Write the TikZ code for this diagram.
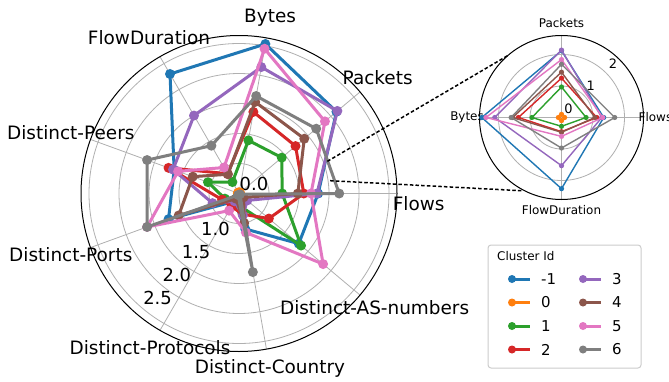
\documentclass[tikz,border=0pt]{standalone}
\usepackage{fontspec}
\setmainfont{DejaVu Sans}
\usetikzlibrary{positioning}

% tab10 colours
\definecolor{tabblue}{HTML}{1F77B4}
\definecolor{taborange}{HTML}{FF7F0E}
\definecolor{tabgreen}{HTML}{2CA02C}
\definecolor{tabred}{HTML}{D62728}
\definecolor{tabpurple}{HTML}{9467BD}
\definecolor{tabbrown}{HTML}{8C564B}
\definecolor{tabpink}{HTML}{E377C2}
\definecolor{tabgray}{HTML}{7F7F7F}
\definecolor{gridgray}{HTML}{B0B0B0}
\definecolor{framegray}{HTML}{CCCCCC}

% one cluster on the big radar (9 features, 40 deg apart)
\newcommand{\bigradar}[2]{%
	\foreach \v [count=\i from 0] in {#2}
		\coordinate (b\i) at ({\i*40}:{\v*60});
	\draw[series, #1] (b0) \foreach \j in {1,...,8}{ -- (b\j)} -- cycle;
	\foreach \j in {0,...,8}
		\fill[#1] (b\j) circle[radius=5];
}
% one cluster on the small radar (first 4 features)
\newcommand{\smallradar}[2]{%
	\foreach \v [count=\i from 0] in {#2}
		\coordinate (s\i) at ({\i*90}:{\v*31.5});
	\draw[thinseries, #1] (s0) -- (s1) -- (s2) -- (s3) -- cycle;
	\foreach \j in {0,...,3}
		\fill[#1] (s\j) circle[radius=2.6];
}

\begin{document}
\begin{tikzpicture}[x=1bp, y=1bp,
		gridline/.style={draw=gridgray, line width=0.8bp},
		rim/.style={draw=black, line width=1bp},
		series/.style={line width=3bp, line join=round},
		thinseries/.style={line width=1.4bp, line join=round},
		axislabel/.style={font=\fontsize{18.5}{22}\selectfont, inner sep=0pt},
		ticklabel/.style={font=\fontsize{18}{21}\selectfont, inner sep=0pt},
		smalllabel/.style={font=\fontsize{12}{14}\selectfont, inner sep=0pt},
		smalltick/.style={font=\fontsize{13}{15}\selectfont, inner sep=0pt},
		legendtitle/.style={font=\fontsize{12}{14}\selectfont, inner sep=0pt},
		legendtext/.style={font=\fontsize{15}{18}\selectfont, inner sep=0pt},
		zoomline/.style={draw=black, line width=1.5bp, dash pattern=on 3.5bp off 2.2bp}
	]
	\path[fill=white, use as bounding box] (0,0) rectangle (669,381);

	% Big radar
	\begin{scope}[shift={(239,187.5)}]
		\foreach \r in {1,...,5}
			\draw[gridline] (0,0) circle[radius=\r*30];
		\foreach \a in {0,40,...,320}
			\draw[gridline] (0,0) -- (\a:158);
		\draw[rim] (0,0) circle[radius=158];
		\node[ticklabel] (rtick0) at (15,10) {0.0};
		\foreach \t [count=\k] in {1.0,1.5,2.0,2.5}
			\node[ticklabel, xshift=15bp, yshift=10bp] (rtick\k) at (230:{\t*60}) {\t};
		% feature names
		\foreach \a/\r/\txt [count=\k] in {-3.3/180/Flows, 40/181/Packets, 80/179/Bytes,
				120/180/FlowDuration, 160/179/Distinct-Peers, 200/179/Distinct-Ports,
				240/178/Distinct-Protocols, 280/178/Distinct-Country, 320/177/Distinct-AS-numbers}
			\node[axislabel] (feat\k) at (\a:\r) {\txt};
		% Draw clusters
		\bigradar{tabblue}{1.32,2.12,2.53,2.30,1.15,1.25,0.15,0.60,1.30}
		\bigradar{taborange}{0.02,0.02,0.02,0.02,0.02,0.02,0.02,0.02,0.02}
		\bigradar{tabgreen}{0.72,0.93,0.90,0.22,0.55,0.25,0.10,0.23,1.35}
		\bigradar{tabred}{1.08,1.23,1.38,0.38,1.25,0.30,0.25,0.35,0.65}
		\bigradar{tabpurple}{1.30,2.14,2.14,1.50,1.17,0.47,0.15,0.37,0.18}
		\bigradar{tabbrown}{0.98,1.42,1.55,0.37,0.82,1.07,0.10,0.50,0.10}
		\bigradar{tabpink}{1.20,1.87,2.45,0.50,1.08,1.63,0.33,0.66,1.83}
		\bigradar{tabgray}{1.67,1.68,1.65,0.92,1.63,1.63,0.03,1.33,0.02}
		\coordinate (zoomA) at (20:94);
		\coordinate (zoomB) at (8:92);
	\end{scope}

	% Small radar
	\begin{scope}[shift={(561.5,263.5)}]
		\foreach \r in {1,2}
			\draw[gridline] (0,0) circle[radius=\r*31.5];
		\foreach \a in {0,90,180,270}
			\draw[gridline] (0,0) -- (\a:82);
		\draw[rim] (0,0) circle[radius=82];
		\foreach \t in {0,1,2}
			\node[smalltick, xshift=7bp, yshift=9bp] (stick\t) at (45:{\t*31.5}) {\t};
		\node[smalllabel] (sflows) [anchor=west] at (0:77) {Flows};
		\node[smalllabel] (spackets) at (90:94) {Packets};
		\node[smalllabel] (sbytes) [anchor=east] at (180:77.5) {Bytes};
		\node[smalllabel] (sduration) at (270:93) {FlowDuration};
		% Draw clusters
		\smallradar{tabblue}{1.34,2.12,2.53,2.26}
		\smallradar{taborange}{0.10,0.10,0.10,0.10}
		\smallradar{tabgreen}{0.78,0.97,0.94,0.28}
		\smallradar{tabred}{1.12,1.25,1.37,0.45}
		\smallradar{tabpurple}{1.28,2.14,2.12,1.53}
		\smallradar{tabbrown}{1.06,1.44,1.55,0.47}
		\smallradar{tabpink}{1.31,1.84,2.40,0.60}
		\smallradar{tabgray}{1.69,1.69,1.60,0.97}
		\coordinate (zoomC) at (131:82);
		\coordinate (zoomD) at (242:83);
	\end{scope}

	% zoom connectors
	\draw[zoomline] (zoomA) -- (zoomC);
	\draw[zoomline] (zoomB) -- (zoomD);

	% Legend
	\draw[framegray, line width=1bp, rounded corners=3bp, fill=white] (488,13) rectangle (641,136);
	\node[legendtitle, anchor=west] (legtitle) at (497,125) {Cluster Id};
	\foreach \lbl/\col/\x/\y [count=\k] in {-1/tabblue/512/102, 0/taborange/512/78.5,
			1/tabgreen/512/55, 2/tabred/512/31.5, 3/tabpurple/583/102, 4/tabbrown/583/78.5,
			5/tabpink/583/55, 6/tabgray/583/31.5}{
		\draw[series, \col] (\x,\y) -- ++(18,0) coordinate (legend\k);
		\fill[\col] (\x,\y) circle[radius=4];
		\node[legendtext, right=11bp of legend\k] (legtext\k) {\lbl};
	}
\end{tikzpicture}
\end{document}
